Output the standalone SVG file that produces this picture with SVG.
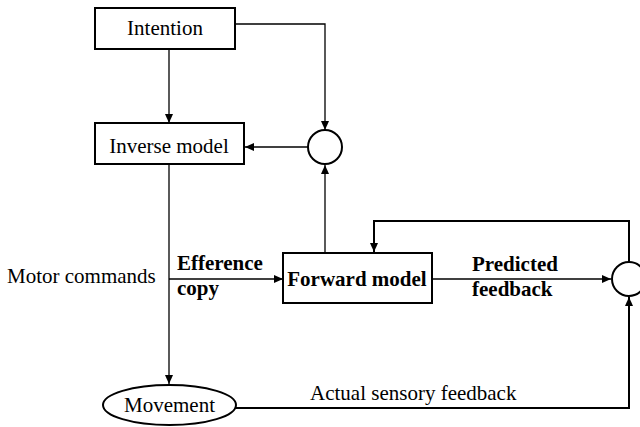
<svg xmlns="http://www.w3.org/2000/svg" width="640" height="427" viewBox="0 0 640 427">
<defs>
<marker id="ah" markerWidth="10" markerHeight="8" refX="9" refY="4" orient="auto" markerUnits="userSpaceOnUse">
<path d="M0,0 L9,4 L0,8 Z" fill="#000"/>
</marker>
<style>
.box{fill:#fff;stroke:#000;stroke-width:2}
.ln{fill:none;stroke:#000;stroke-width:1.3}
.lnb{fill:none;stroke:#000;stroke-width:2}
.t{font-family:"Liberation Serif","Times New Roman",serif;font-size:21px;fill:#000}
.b{font-weight:bold}
</style>
</defs>
<rect width="640" height="427" fill="#fff"/>
<g id="connectors">
<path class="ln" d="M169,49 V123" marker-end="url(#ah)"/>
<path class="ln" d="M235,24 H325 V130" marker-end="url(#ah)"/>
<path class="ln" d="M308,147 H245" marker-end="url(#ah)"/>
<path class="ln" d="M325,253 V165" marker-end="url(#ah)"/>
<path class="ln" d="M169,164 V384" marker-end="url(#ah)"/>
<path class="ln" d="M169,279 H283" marker-end="url(#ah)"/>
<path class="ln" d="M432,279 H611" marker-end="url(#ah)"/>
<path class="lnb" d="M629,262 V221 H374 V252" marker-end="url(#ah)"/>
<path class="lnb" d="M236,408 H629 V297" marker-end="url(#ah)"/>
</g>
<g id="intention">
<rect class="box" x="95" y="8" width="140" height="41"/>
<text class="t" x="165" y="35" text-anchor="middle">Intention</text>
</g>
<g id="inverse">
<rect class="box" x="95" y="123" width="149" height="41"/>
<text class="t" x="169" y="153" text-anchor="middle">Inverse model</text>
</g>
<g id="sum1">
<circle class="box" cx="325" cy="147" r="17"/>
</g>
<g id="forward">
<rect class="box" x="283" y="253" width="149" height="50"/>
<text class="t b" x="357" y="286" text-anchor="middle">Forward model</text>
</g>
<g id="sum2">
<circle class="box" cx="629" cy="279" r="17"/>
</g>
<g id="movement">
<ellipse class="box" cx="169.5" cy="405" rx="66.5" ry="20"/>
<text class="t" x="169.5" y="412" text-anchor="middle">Movement</text>
</g>
<g id="labels">
<text class="t" x="7" y="283">Motor commands</text>
<text class="t b" x="177" y="270">Efference</text>
<text class="t b" x="177" y="295">copy</text>
<text class="t b" x="472" y="271">Predicted</text>
<text class="t b" x="472" y="296">feedback</text>
<text class="t" x="310" y="400">Actual sensory feedback</text>
</g>
</svg>
